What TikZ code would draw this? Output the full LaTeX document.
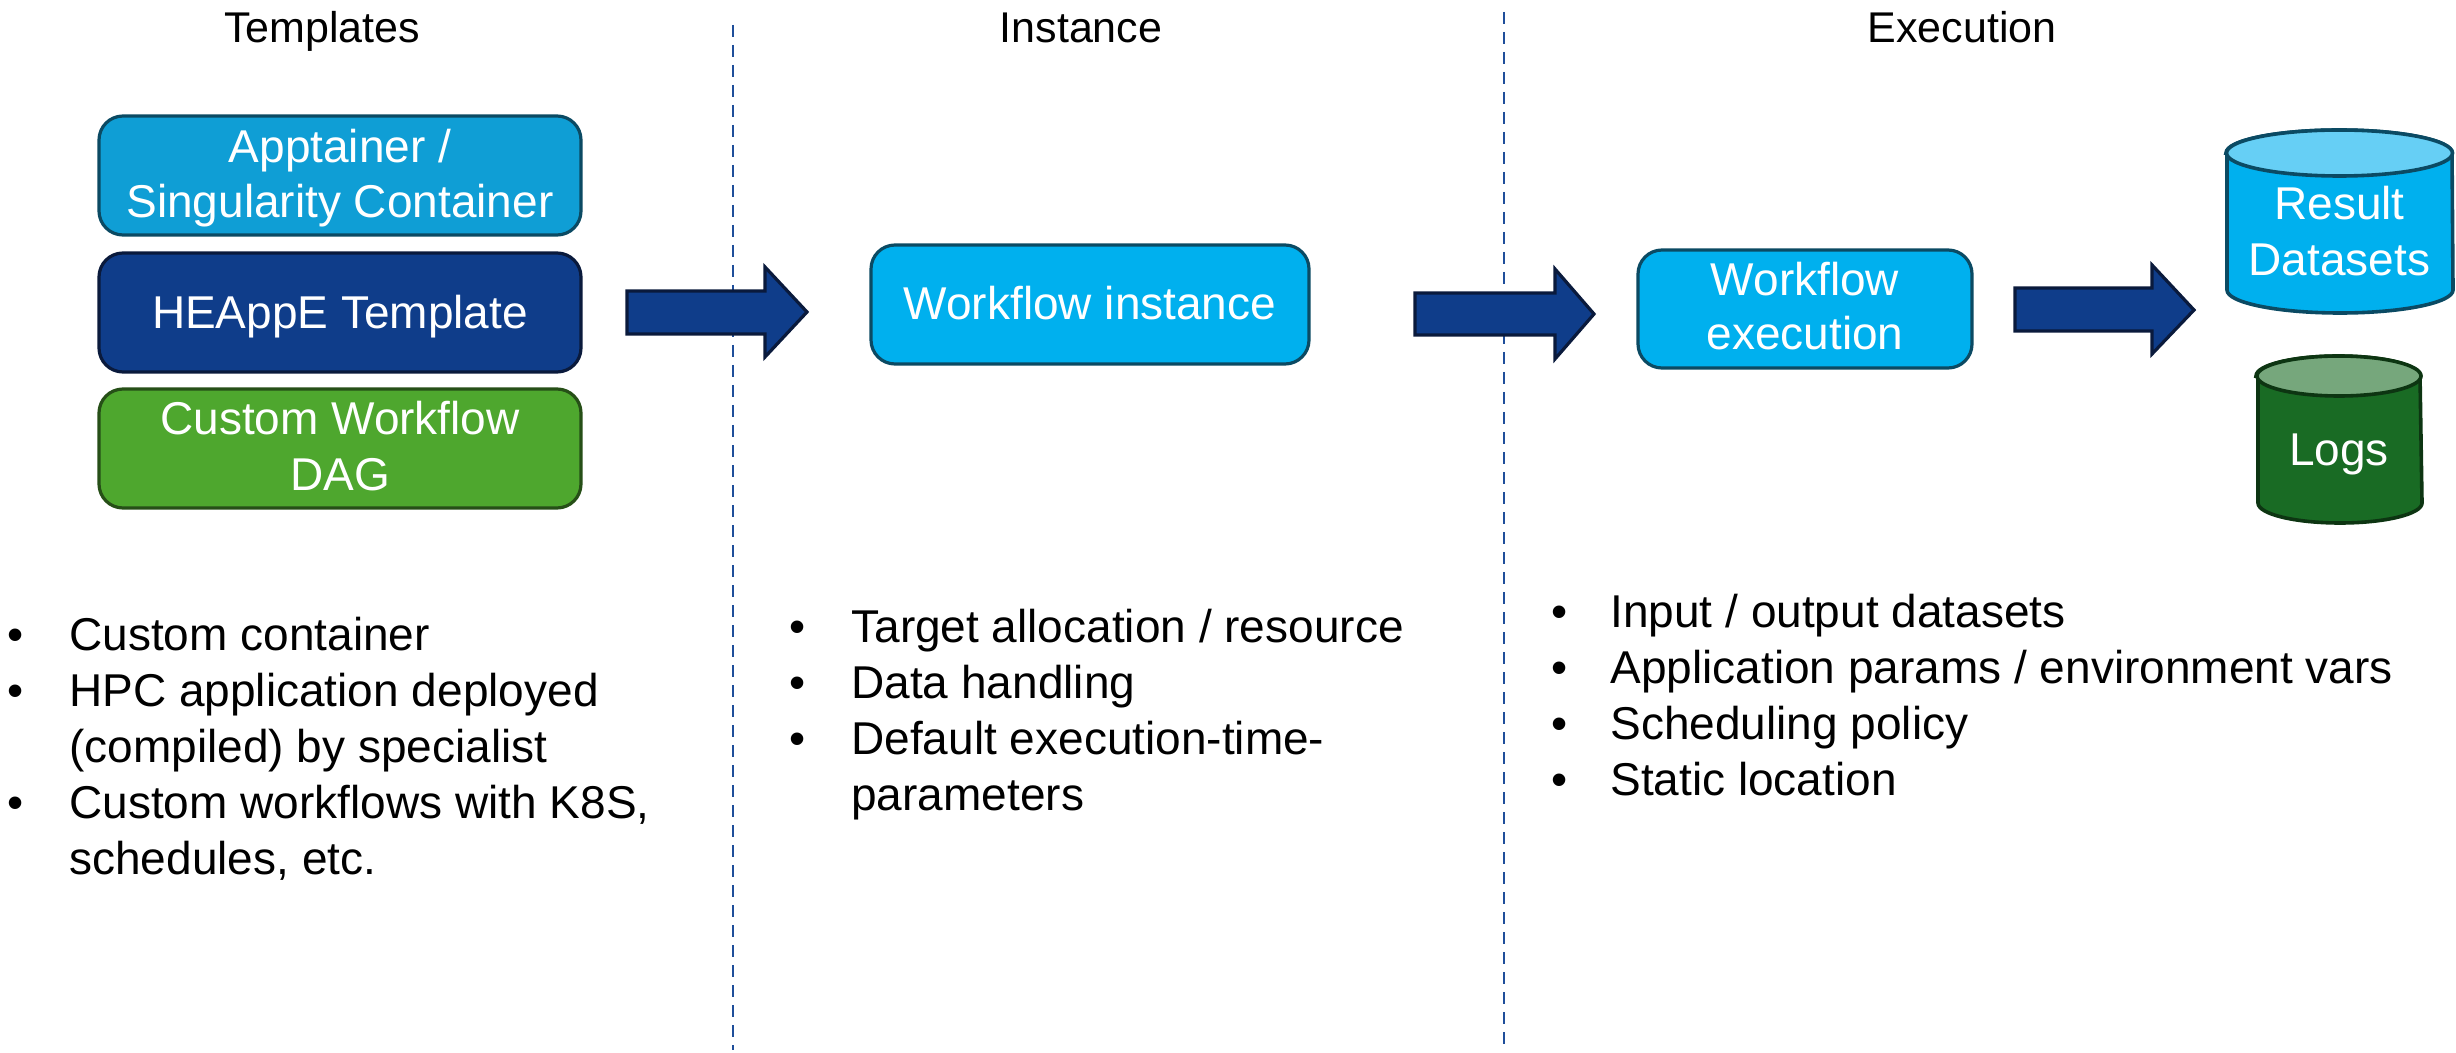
\documentclass[tikz,border=0pt]{standalone}
\usepackage{fontspec}
\setmainfont{Liberation Sans}
\definecolor{cfour}{HTML}{0F9ED5}
\definecolor{cfouredge}{HTML}{0B4A63}
\definecolor{navy}{HTML}{0F3D8A}
\definecolor{navyedge}{HTML}{0A1A3C}
\definecolor{cgreen}{HTML}{4EA72E}
\definecolor{cgreenedge}{HTML}{264F17}
\definecolor{skyblue}{HTML}{00B0EE}
\definecolor{skyedge}{HTML}{0B4A63}
\definecolor{skytop}{HTML}{66CFF5}
\definecolor{dgreen}{HTML}{196B24}
\definecolor{dgreentop}{HTML}{76A77C}
\definecolor{dgreenedge}{HTML}{0D3512}
\definecolor{divblue}{HTML}{1F4E9A}
\begin{document}
\begin{tikzpicture}[x=0.5pt,y=-0.5pt,
  txt/.style={font=\fontsize{23}{28}\selectfont, inner sep=0pt, anchor=base},
  wtxt/.style={txt, text=white},
  ttl/.style={font=\fontsize{21.5}{26}\selectfont, inner sep=0pt, anchor=base},
  lst/.style={txt, anchor=base west},
  box/.style={rounded corners=12pt, line width=1.6pt, inner sep=0pt},
  blockarrow/.style={fill=navy, draw=navyedge, line width=1.6pt, line join=miter},
  divider/.style={draw=divblue, line width=1.4pt, dash pattern=on 6pt off 4pt},
  cylbody/.style={line width=1.8pt}]

\useasboundingbox (0,0) rectangle (2456,1053);

% dividers
\coordinate (d1a) at (733,25);
\coordinate (d1b) at (733,1050);
\coordinate (d2a) at (1504,12);
\coordinate (d2b) at (1504,1050);
\draw[divider] (d1a) -- (d1b);
\draw[divider] (d2a) -- (d2b);

% titles
\node[ttl] (t1) at (322,43) {Templates};
\node[ttl] (t2) at (1081,43) {Instance};
\node[ttl] (t3) at (1962,43) {Execution};

% template boxes
\node[box, fill=cfour, draw=cfouredge, minimum width=241pt, minimum height=59.5pt] (apt) at (340,175.5) {};
\node[box, fill=navy, draw=navyedge, minimum width=241pt, minimum height=59.5pt] (heappe) at (340,312.5) {};
\node[box, fill=cgreen, draw=cgreenedge, minimum width=241pt, minimum height=59.5pt] (dag) at (340,448.5) {};
\node[wtxt] (apt1) at (340,163) {Apptainer /};
\node[wtxt] (apt2) at (340,218) {Singularity Container};
\node[wtxt] (hp1) at (340,329) {HEAppE Template};
\node[wtxt] (dag1) at (340,434) {Custom Workflow};
\node[wtxt] (dag2) at (340,490) {DAG};

% instance box
\node[box, fill=skyblue, draw=skyedge, minimum width=219pt, minimum height=59.5pt] (inst) at (1090,304.5) {};
\node[wtxt] (inst1) at (1090,320) {Workflow instance};

% execution box
\node[box, fill=skyblue, draw=skyedge, minimum width=167pt, minimum height=59pt] (exec) at (1805,309) {};
\node[wtxt] (exec1) at (1805,296) {Workflow};
\node[wtxt] (exec2) at (1805,350) {execution};

% block arrows
\draw[blockarrow] (627,291) -- (765,291) -- (765,267) -- (807,312) -- (765,357) -- (765,334) -- (627,334) -- cycle;
\draw[blockarrow] (1415,293) -- (1555,293) -- (1555,269) -- (1594,314) -- (1555,359) -- (1555,335) -- (1415,335) -- cycle;
\draw[blockarrow] (2015,288) -- (2152,288) -- (2152,265) -- (2194,310) -- (2152,354) -- (2152,331) -- (2015,331) -- cycle;

% Result Datasets cylinder
\filldraw[cylbody, fill=skyblue, draw=skyedge] (2227,153) -- (2227,290)
  arc[start angle=180, end angle=360, x radius=56.5pt, y radius=11.5pt]
  -- (2452,153)
  arc[start angle=0, end angle=180, x radius=56.5pt, y radius=11.5pt] -- cycle;
\filldraw[cylbody, fill=skytop, draw=skyedge] (2339.5,153) ellipse[x radius=56.5pt, y radius=11.5pt];
\node[wtxt] (res1) at (2339.5,220) {Result};
\node[wtxt] (res2) at (2339.5,276) {Datasets};

% Logs cylinder
\filldraw[cylbody, fill=dgreen, draw=dgreenedge] (2258,376) -- (2258,503)
  arc[start angle=180, end angle=360, x radius=41pt, y radius=10pt]
  -- (2420,376)
  arc[start angle=0, end angle=180, x radius=41pt, y radius=10pt] -- cycle;
\filldraw[cylbody, fill=dgreentop, draw=dgreenedge] (2339,376) ellipse[x radius=41pt, y radius=10pt];
\node[wtxt] (logs) at (2339,466) {Logs};

% left bullets
\node[txt] (lb1) at (16,650) {•};
\node[lst] (l1) at (69,650) {Custom container};
\node[txt] (lb2) at (16,706) {•};
\node[lst] (l2) at (69,706) {HPC application deployed};
\node[lst] (l3) at (69,762) {(compiled) by specialist};
\node[txt] (lb3) at (16,818) {•};
\node[lst] (l4) at (69,818) {Custom workflows with K8S,};
\node[lst] (l5) at (69,874) {schedules, etc.};

% middle bullets
\node[txt] (mb1) at (798,642) {•};
\node[lst] (m1) at (851,642) {Target allocation / resource};
\node[txt] (mb2) at (798,698) {•};
\node[lst] (m2) at (851,698) {Data handling};
\node[txt] (mb3) at (798,754) {•};
\node[lst] (m3) at (851,754) {Default execution-time-};
\node[lst] (m4) at (851,810) {parameters};

% right bullets
\node[txt] (rb1) at (1560,627) {•};
\node[lst] (r1) at (1610,627) {Input / output datasets};
\node[txt] (rb2) at (1560,683) {•};
\node[lst] (r2) at (1610,683) {Application params / environment vars};
\node[txt] (rb3) at (1560,739) {•};
\node[lst] (r3) at (1610,739) {Scheduling policy};
\node[txt] (rb4) at (1560,795) {•};
\node[lst] (r4) at (1610,795) {Static location};
\end{tikzpicture}
\end{document}
